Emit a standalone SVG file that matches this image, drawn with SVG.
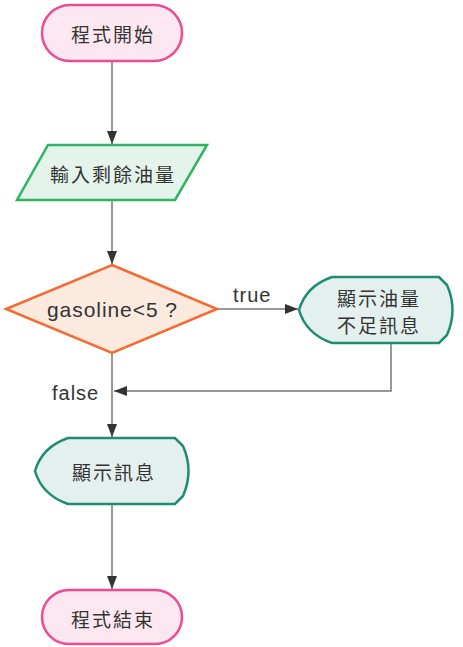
<svg xmlns="http://www.w3.org/2000/svg" width="463" height="647" viewBox="0 0 463 647">
<style>
.term{fill:#fde8f1;stroke:#ef4a93;stroke-width:2.5}
.io{fill:#e4f4ea;stroke:#2db562;stroke-width:2.5}
.dec{fill:#fdeadf;stroke:#f66a2f;stroke-width:2.5}
.disp{fill:#e4f0ee;stroke:#1d8c73;stroke-width:2.5}
.cjk{font-family:"Noto Sans CJK TC","Noto Sans CJK SC",sans-serif;font-size:19px;fill:#333;letter-spacing:2px;text-anchor:middle;dominant-baseline:central}
.lat{font-family:"Liberation Sans",Arial,sans-serif;font-size:20px;fill:#333;letter-spacing:1px}
.conn{fill:none;stroke:#777;stroke-width:1.5}
</style>
<defs>
<marker id="arr" markerUnits="userSpaceOnUse" markerWidth="14" markerHeight="10" refX="13" refY="5" orient="auto">
<path d="M0,0 L13,5 L0,10 Z" fill="#333"/>
</marker>
<path id="dispShape" d="M33,0 L140,0 L148,8 Q159,33 148,58 L140,66 L33,66 Q7,57 0,33 Q7,9 33,0 Z"/>
</defs>
<g id="connectors">
<line class="conn" x1="112" y1="61" x2="112" y2="144" marker-end="url(#arr)"/>
<line class="conn" x1="112" y1="200" x2="112" y2="264" marker-end="url(#arr)"/>
<line class="conn" x1="217" y1="309" x2="298" y2="309" marker-end="url(#arr)"/>
<text class="lat" x="233" y="302">true</text>
<polyline class="conn" points="391,343 391,391 114,391" marker-end="url(#arr)"/>
<line class="conn" x1="112" y1="353" x2="112" y2="437" marker-end="url(#arr)"/>
<text class="lat" x="52" y="400">false</text>
<line class="conn" x1="112" y1="504" x2="112" y2="589" marker-end="url(#arr)"/>
</g>
<g id="start">
<rect class="term" x="42" y="5" width="140" height="56" rx="28"/>
<text class="cjk" x="113" y="33">程式開始</text>
</g>
<g id="input">
<polygon class="io" points="48,145 207,145 175,200 17,200"/>
<text class="cjk" x="113" y="173">輸入剩餘油量</text>
</g>
<g id="decision">
<polygon class="dec" points="112,265 217,309 112,353 6,309"/>
<text x="112" y="317" text-anchor="middle" font-family="Liberation Sans, Arial, sans-serif" font-size="21" fill="#333" textLength="130" lengthAdjust="spacing">gasoline&lt;5 ?</text>
</g>
<g id="display1">
<use href="#dispShape" class="disp" transform="translate(299,277)"/>
<text class="cjk" x="379" y="297">顯示油量</text>
<text class="cjk" x="379" y="324">不足訊息</text>
</g>
<g id="display2">
<use href="#dispShape" class="disp" transform="translate(35,438)"/>
<text class="cjk" x="114" y="471">顯示訊息</text>
</g>
<g id="end">
<rect class="term" x="42" y="590" width="140" height="54" rx="27"/>
<text class="cjk" x="113" y="618">程式結束</text>
</g>
</svg>
